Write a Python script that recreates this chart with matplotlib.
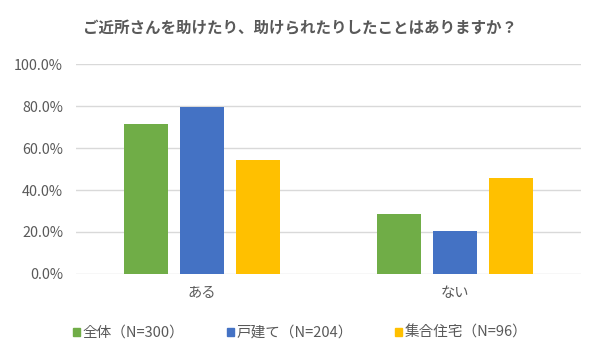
import matplotlib
matplotlib.use("Agg")
import matplotlib.pyplot as plt
import numpy as np
from matplotlib.patches import Patch

plt.rcParams['font.family'] = ['Noto Sans CJK JP', 'DejaVu Sans']

title = "ご近所さんを助けたり、助けられたりしたことはありますか？"
categories = ["ある", "ない"]
series_names = ["全体（N=300）", "戸建て（N=204）", "集合住宅（N=96）"]
values_all = [71.3, 28.7]
values_house = [79.4, 20.6]
values_apartment = [54.2, 45.8]
colors = ["#70AD47", "#4472C4", "#FFC000"]
yticks = [0, 20, 40, 60, 80, 100]
ytick_labels = ["0.0%", "20.0%", "40.0%", "60.0%", "80.0%", "100.0%"]

fig = plt.figure(figsize=(6, 3.6), dpi=100)
ax = fig.add_axes([0.126, 0.239, 0.843, 0.583])

x = np.arange(len(categories))
width = 0.174
offset = 0.221
series = [values_all, values_house, values_apartment]
for i, (vals, name, c) in enumerate(zip(series, series_names, colors)):
    ax.bar(x + (i - 1) * offset, vals, width=width, color=c, label=name, zorder=3)

ax.set_xlim(-0.5, 1.5)
ax.set_ylim(0, 100)
ax.set_yticks(yticks)
ax.set_yticklabels(ytick_labels)
ax.set_xticks(x)
ax.set_xticklabels(categories)
ax.grid(axis='y', color='#D9D9D9', linewidth=1, zorder=0)
for s in ax.spines.values():
    s.set_visible(False)
ax.tick_params(axis='both', length=0, labelsize=10.3, colors='#595959')
ax.tick_params(axis='y', pad=9)
ax.tick_params(axis='x', pad=9)

fig.text(0.5, 0.922, title, ha='center', va='center', fontsize=11.2,
         fontweight='bold', color='#595959')

handles = [Patch(color=c) for c in colors]
fig.legend(handles, series_names, loc='center', bbox_to_anchor=(0.5, 0.075),
           ncol=3, frameon=False, fontsize=10.5, handlelength=0.5, handleheight=0.5,
           handletextpad=0.15, columnspacing=2.9, labelcolor='#595959')

fig.savefig("out.png", dpi=100)
